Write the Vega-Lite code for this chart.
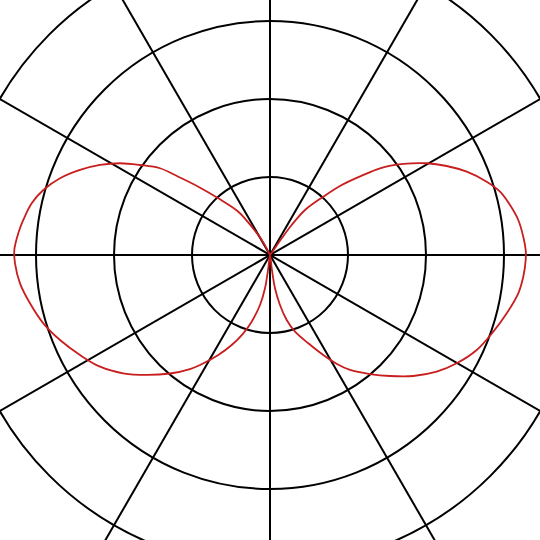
{
  "$schema": "https://vega.github.io/schema/vega-lite/v6.json",
  "width": 540,
  "height": 540,
  "padding": 0,
  "autosize": {"type": "fit", "contains": "padding"},
  "background": "white",
  "view": {"stroke": null},
  "datasets": {
    "rings": [{"r": 1}, {"r": 2}, {"r": 3}, {"r": 4}],
    "spokes": [
      {"x": 6, "y": 0, "x2": -6, "y2": 0},
      {"x": 5.196, "y": 3, "x2": -5.196, "y2": -3},
      {"x": 3, "y": 5.196, "x2": -3, "y2": -5.196},
      {"x": 0, "y": 6, "x2": 0, "y2": -6},
      {"x": -3, "y": 5.196, "x2": 3, "y2": -5.196},
      {"x": -5.196, "y": 3, "x2": 5.196, "y2": -3}
    ],
    "pattern": [
      {"i": 1, "x": 0, "y": 0},
      {"i": 2, "x": 0.064, "y": 0.09},
      {"i": 3, "x": 0.15, "y": 0.214},
      {"i": 4, "x": 0.278, "y": 0.385},
      {"i": 5, "x": 0.449, "y": 0.577},
      {"i": 6, "x": 0.683, "y": 0.747},
      {"i": 7, "x": 0.919, "y": 0.897},
      {"i": 8, "x": 1.176, "y": 1.017},
      {"i": 9, "x": 1.41, "y": 1.112},
      {"i": 10, "x": 1.709, "y": 1.167},
      {"i": 11, "x": 2.009, "y": 1.176},
      {"i": 12, "x": 2.265, "y": 1.141},
      {"i": 13, "x": 2.522, "y": 1.068},
      {"i": 14, "x": 2.778, "y": 0.94},
      {"i": 15, "x": 2.949, "y": 0.812},
      {"i": 16, "x": 3.077, "y": 0.641},
      {"i": 17, "x": 3.183, "y": 0.449},
      {"i": 18, "x": 3.247, "y": 0.235},
      {"i": 19, "x": 3.278, "y": 0.064},
      {"i": 20, "x": 3.278, "y": -0.064},
      {"i": 21, "x": 3.247, "y": -0.278},
      {"i": 22, "x": 3.183, "y": -0.491},
      {"i": 23, "x": 3.035, "y": -0.747},
      {"i": 24, "x": 2.863, "y": -0.983},
      {"i": 25, "x": 2.65, "y": -1.218},
      {"i": 26, "x": 2.394, "y": -1.388},
      {"i": 27, "x": 2.137, "y": -1.496},
      {"i": 28, "x": 1.837, "y": -1.551},
      {"i": 29, "x": 1.538, "y": -1.551},
      {"i": 30, "x": 1.282, "y": -1.526},
      {"i": 31, "x": 1.026, "y": -1.474},
      {"i": 32, "x": 0.859, "y": -1.397},
      {"i": 33, "x": 0.683, "y": -1.282},
      {"i": 34, "x": 0.491, "y": -1.132},
      {"i": 35, "x": 0.321, "y": -0.983},
      {"i": 36, "x": 0.214, "y": -0.833},
      {"i": 37, "x": 0.128, "y": -0.641},
      {"i": 38, "x": 0.064, "y": -0.427},
      {"i": 39, "x": 0.022, "y": -0.171},
      {"i": 40, "x": 0, "y": 0},
      {"i": 41, "x": -0.022, "y": -0.171},
      {"i": 42, "x": -0.064, "y": -0.427},
      {"i": 43, "x": -0.128, "y": -0.641},
      {"i": 44, "x": -0.235, "y": -0.855},
      {"i": 45, "x": -0.342, "y": -1.004},
      {"i": 46, "x": -0.491, "y": -1.154},
      {"i": 47, "x": -0.663, "y": -1.282},
      {"i": 48, "x": -0.897, "y": -1.41},
      {"i": 49, "x": -1.026, "y": -1.462},
      {"i": 50, "x": -1.282, "y": -1.519},
      {"i": 51, "x": -1.581, "y": -1.538},
      {"i": 52, "x": -1.881, "y": -1.517},
      {"i": 53, "x": -2.179, "y": -1.432},
      {"i": 54, "x": -2.436, "y": -1.282},
      {"i": 55, "x": -2.692, "y": -1.09},
      {"i": 56, "x": -2.906, "y": -0.876},
      {"i": 57, "x": -3.077, "y": -0.619},
      {"i": 58, "x": -3.205, "y": -0.363},
      {"i": 59, "x": -3.269, "y": -0.106},
      {"i": 60, "x": -3.278, "y": 0.064},
      {"i": 61, "x": -3.227, "y": 0.278},
      {"i": 62, "x": -3.163, "y": 0.449},
      {"i": 63, "x": -3.055, "y": 0.663},
      {"i": 64, "x": -2.906, "y": 0.833},
      {"i": 65, "x": -2.692, "y": 0.983},
      {"i": 66, "x": -2.436, "y": 1.09},
      {"i": 67, "x": -2.179, "y": 1.154},
      {"i": 68, "x": -1.923, "y": 1.176},
      {"i": 69, "x": -1.667, "y": 1.154},
      {"i": 70, "x": -1.41, "y": 1.112},
      {"i": 71, "x": -1.176, "y": 1.004},
      {"i": 72, "x": -0.919, "y": 0.876},
      {"i": 73, "x": -0.663, "y": 0.727},
      {"i": 74, "x": -0.406, "y": 0.555},
      {"i": 75, "x": -0.235, "y": 0.363},
      {"i": 76, "x": -0.106, "y": 0.192},
      {"i": 77, "x": 0, "y": 0}
    ]
  },
  "layer": [
    {
      "data": {"name": "spokes"},
      "mark": {"type": "rule", "color": "black", "strokeWidth": 2, "clip": true},
      "encoding": {
        "x": {"field": "x", "type": "quantitative", "axis": null,
              "scale": {"domain": [-3.4615, 3.4615], "nice": false, "zero": false}},
        "y": {"field": "y", "type": "quantitative", "axis": null,
              "scale": {"domain": [-3.6538, 3.2692], "nice": false, "zero": false}},
        "x2": {"field": "x2"},
        "y2": {"field": "y2"}
      }
    },
    {
      "data": {"name": "rings"},
      "mark": {"type": "point", "shape": "circle", "filled": false, "stroke": "black",
               "strokeWidth": 2, "opacity": 1, "clip": true},
      "encoding": {
        "x": {"datum": 0, "type": "quantitative"},
        "y": {"datum": 0, "type": "quantitative"},
        "size": {"field": "r", "type": "quantitative", "legend": null,
                 "scale": {"type": "pow", "exponent": 2, "domain": [0, 4], "range": [0, 389376]}}
      }
    },
    {
      "data": {"name": "pattern"},
      "mark": {"type": "line", "color": "#c81e1e", "strokeWidth": 1.8,
               "interpolate": "catmull-rom", "clip": true},
      "encoding": {
        "x": {"field": "x", "type": "quantitative"},
        "y": {"field": "y", "type": "quantitative"},
        "order": {"field": "i", "type": "quantitative"}
      }
    }
  ]
}
